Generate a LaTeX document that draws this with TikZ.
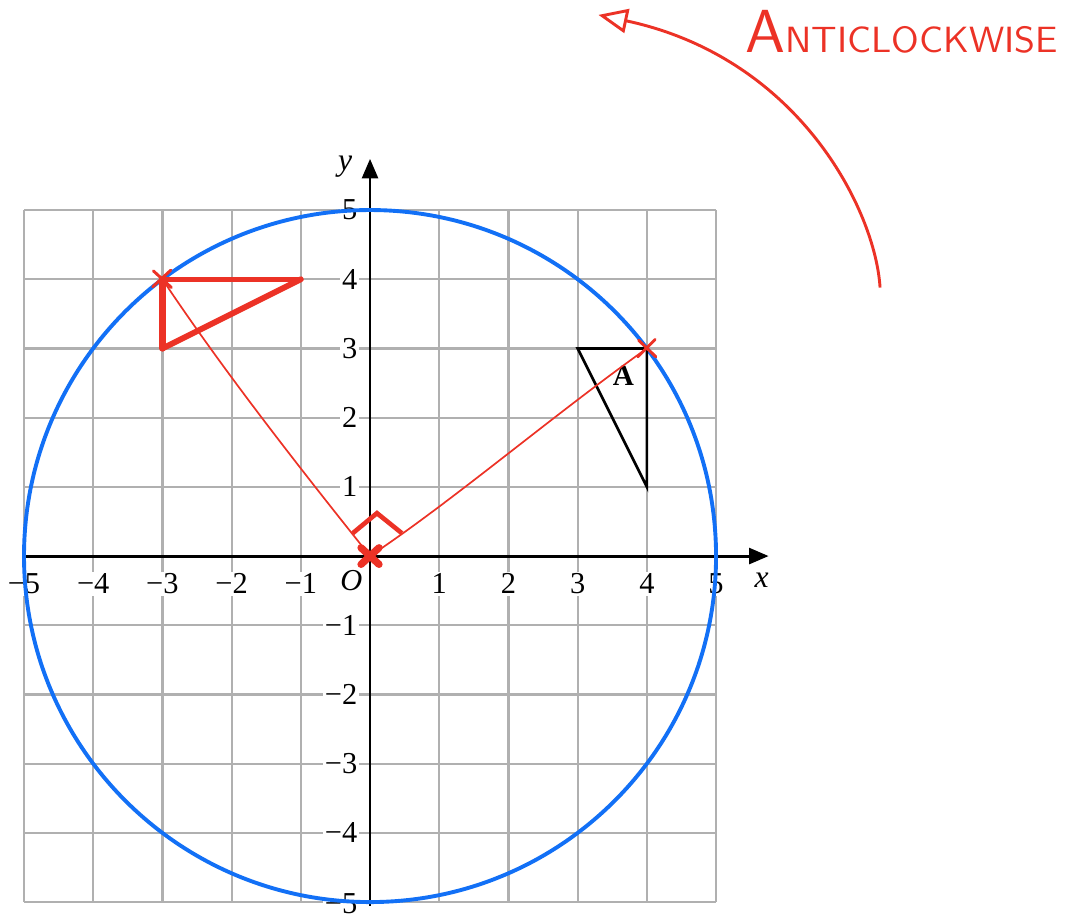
\documentclass[tikz,border=0pt]{standalone}
\usepackage{fontspec}
\setmainfont{Liberation Serif}
\usetikzlibrary{arrows.meta,calc}
\definecolor{gridgrey}{RGB}{176,176,176}
\definecolor{circblue}{RGB}{18,112,246}
\definecolor{penred}{RGB}{236,50,38}
\begin{document}
\begin{tikzpicture}[
  ticklab/.style={fill=white, inner sep=0.8pt, font=\fontsize{12.5}{14}\selectfont},
  ylab/.style={ticklab, anchor=east},
  axisline/.style={line width=1.2pt, -{Triangle[length=8pt,width=6.5pt]}},
  thinred/.style={penred, line width=0.7pt},
  thickred/.style={penred, line width=2.1pt, line cap=round, line join=round},
  crossred/.style={penred, line width=1.2pt, line cap=round}
]
\useasboundingbox (-5.347,-5.173) rectangle (10.10,8.035);
% grid
\draw[gridgrey, line width=0.9pt] (-5,-5) grid (5,5);
% tick labels
\foreach \i/\t in {-5/−5,-4/−4,-3/−3,-2/−2,-1/−1,1/1,2/2,3/3,4/4,5/5}
  \node[ticklab] (xl\i) at (\i,-0.40) {\t};
\foreach \j/\t in {-4/−4,-3/−3,-2/−2,-1/−1,1/1,2/2,3/3,4/4,5/5}
  \node[ylab] (yl\j) at (-0.15,\j) {\t};
\node[ylab] (yl-5) at (-0.15,-5.02) {−5};
\node[ticklab, font=\fontsize{12.5}{14}\selectfont\itshape] (olab) at (-0.27,-0.36) {O};
% axes
\coordinate (xs) at (-5,0);
\coordinate (xe) at (5.76,0);
\coordinate (ys) at (0,-5.05);
\coordinate (ye) at (0,5.74);
\draw[axisline] (xs) -- (xe);
\draw[axisline] (ys) -- (ye);
\node[font=\fontsize{13}{14}\selectfont\itshape] (xlab) at (5.66,-0.35) {x};
\node[font=\fontsize{13}{14}\selectfont\itshape] (ylab) at (-0.36,5.62) {y};
% circle
\coordinate (O) at (0,0);
\draw[circblue, line width=1.6pt] (O) circle (5);
% triangle A
\coordinate (A1) at (3,3);
\coordinate (A2) at (4,3);
\coordinate (A3) at (4,1);
\draw[line width=1.1pt, line join=miter] (A1) -- (A2) -- (A3) -- cycle;
\node[font=\fontsize{12}{14}\selectfont\bfseries] (alab) at (3.66,2.61) {A};
% red construction
\coordinate (P) at (4,3);
\coordinate (Q) at (-3,4);
\coordinate (R) at (-1,4);
\coordinate (S) at (-3,3);
\draw[thinred] (O) .. controls (1.2,0.8) and (2.6,2.0) .. (P);
\draw[thinred] (O) .. controls (-1.2,1.5) and (-2.2,2.8) .. (Q);
\draw[thickred] (Q) -- (R);
\draw[thickred, line width=2.4pt] (R) -- (S);
\draw[thickred, line width=2.6pt] (S) -- (Q);
% right angle mark
\coordinate (m1) at (-0.25,0.33);
\coordinate (m2) at (0.10,0.62);
\coordinate (m3) at (0.46,0.33);
\draw[thickred, line width=1.9pt, line join=miter, line cap=butt] (m1) -- (m2) -- (m3);
% crosses
\draw[crossred] ($(P)+(-0.13,-0.12)$) -- ($(P)+(0.12,0.13)$);
\draw[crossred] ($(P)+(-0.12,0.12)$) -- ($(P)+(0.13,-0.12)$);
\draw[crossred] ($(Q)+(-0.14,-0.11)$) -- ($(Q)+(0.12,0.13)$);
\draw[crossred] ($(Q)+(-0.13,0.12)$) -- ($(Q)+(0.13,-0.12)$);
\draw[penred, line width=3pt, line cap=round] (-0.13,-0.12) -- (0.13,0.12);
\draw[penred, line width=3pt, line cap=round] (-0.13,0.12) -- (0.13,-0.12);
% anticlockwise arrow
\coordinate (arrs) at (7.37,3.88);
\coordinate (arre) at (3.30,7.82);
\draw[penred, line width=1.2pt, -{Triangle[open,length=12pt,width=10pt]}]
  (arrs) .. controls (7.3,5.0) and (6.2,7.2) .. (arre);
\node[penred, anchor=base west, inner sep=0pt, font=\sffamily] (acw) at (5.42,7.27)
  {\scalebox{1.05}[1]{\fontsize{25}{25}\selectfont A\fontsize{15}{15}\selectfont NTICLOCKWISE}};
\end{tikzpicture}
\end{document}
